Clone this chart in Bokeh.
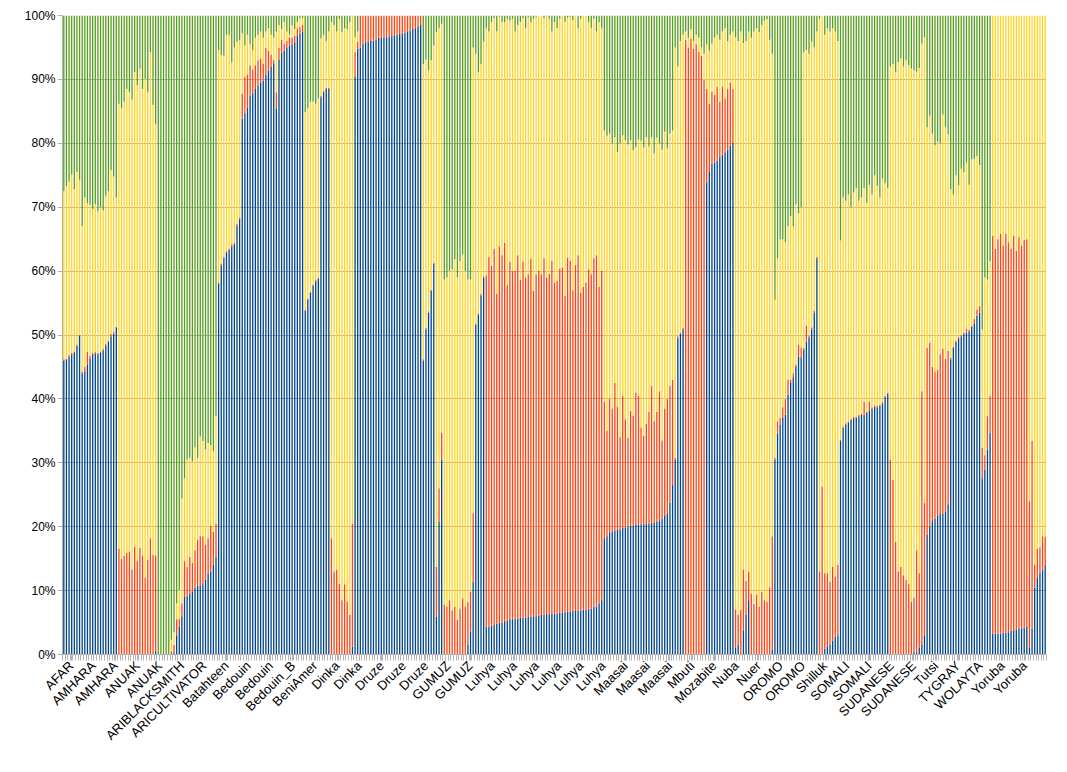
import numpy as np
from bokeh.plotting import figure
from bokeh.models import ColumnDataSource, FixedTicker, Range1d
from bokeh.embed import file_html
from bokeh.resources import INLINE

# ---- data: per-sample cumulative boundaries (%) ----
# blue share, blue+red top, blue+red+yellow top (green fills to 100)
blue_top = (
    [46.0,46.2,46.6,47.0,47.3,48.3,49.9,44.0,44.2,45.3,46.3,47.0,47.1,47.1,47.2,47.6,48.3,48.9,49.8,50.2,51.2]
    + [0,0,0,0,0,0,0,0,0,0,0,0,0,0,0.5]
    + [0,0,0,0,0]
    + [0,0.3,3.0,4.4]
    + [6.0,9.0,9.2,9.5,9.8,10.4,10.8,10.8,11.0,11.7,12.7,13.0,14.0,15.3]
    + [58.0,60.9,62.0,62.9,63.3,63.9,64.2,67.1,68.1]
    + [83.9,84.7,85.6,87.5,87.8,88.5,89.1,89.5,89.8,90.7,91.4,92.0,92.4,85.5,93.1,94.2,94.5,95.0,95.3,95.5,95.7,96.8,97.2,97.5]
    + [53.8,55.5,56.6,57.7,58.4,58.8]
    + [87.2,88.0,88.5,88.5]
    + [0,0,0,0,0,0,0,0,1.2]
    + [90.5,94.8,95.0,95.6,95.8,95.9,96.0,96.1,96.2,96.5,96.6,96.6,96.6,96.7,96.8,96.9,97.0,97.1,97.2,97.3,97.5,97.6,97.9,98.0,98.3,98.6]
    + [46.0,50.9,53.5,56.9,61.1]
    + [5.9,20.8,30.5]
    + [0,0,0,0,0,0,0,0,0,1.5,3.6]
    + [11.4,51.6,53.2,56.2,59.0]
    + [4.4,4.4,4.5,4.6,4.8,5.0,5.0,5.2,5.3,5.5,5.5,5.6,5.6,5.7,5.8,5.8,5.9,5.9,6.0,6.0,6.1,6.2,6.2,6.3,
       6.3,6.4,6.4,6.4,6.5,6.5,6.6,6.7,6.7,6.8,6.8,6.9,6.9,7.0,7.0,7.1,7.2,7.5,7.5,8.0,8.5]
    + [18.2,18.5,19.0,19.3,19.4,19.5,19.6,19.8,19.9,20.0,20.1,20.2,20.3,20.3,20.4,20.4,20.5,20.5,20.6,20.6,20.8,21.0,21.2,21.8,22.0,23.8]
    + [26.5,30.5,49.5,50.2,50.9]
    + [0,0,0,0,0,0,0,0]
    + [73.9,75.5,76.8,77.0,77.3,77.8,78.2,78.6,79.0,79.6,80.0]
    + [1.0,1.5,0,3.8,6.2,8.5,0,0,0,0,0,0,0,0,0.8]
    + [30.5,34.5,36.0,37.0,37.5,40.7,42.5,43.4,45.0,46.6]
    + [46.5,47.7,49.0,49.6,50.9,53.5,62.0]
    + [0,0,0.9,1.3,1.5,2.2,2.8,3.0]
    + [33.4,35.5,36.0,36.3,36.7,37.0,37.0,37.3,37.5,37.5,37.8,38.2,38.5,38.8,38.7,38.9,39.3,40.3,40.8]
    + [0,0,0,0,0,0,0,0,0,0.4,0.3,1.0,1.5,3.0]
    + [18.7,20.0,21.0,21.2,21.8,22.0,22.0,22.3,23.5]
    + [46.2,48.0,48.9,49.5,49.8,50.2,50.4,50.6,51.3,51.8]
    + [53.0,53.5,27.6,28.9,32.1,34.7]
    + [3.2,3.2,3.3,3.3,3.4,3.4,3.5,3.7,3.8,3.9,4.0,4.1,4.2,4.3]
    + [1.0,4.0,10.5,12.0,12.8,13.2,14.0]
)

red_top = (
    [46.2,46.3,46.9,47.2,47.4,48.5,50.0,44.3,45.0,47.4,46.7,47.2,47.4,47.2,47.4,47.8,48.6,49.1,50.2,50.5,51.3]
    + [16.6,15.0,15.4,15.9,16.1,13.3,16.9,14.6,16.7,15.5,12.0,14.8,18.2,15.6,15.5]
    + [0,0,0,0,0]
    + [0.5,1.5,5.5,5.6]
    + [8.0,14.6,13.7,15.3,14.3,16.3,17.9,18.5,18.5,17.2,18.2,20.1,19.2,20.5]
    + [58.2,61.2,62.2,63.2,63.5,64.2,64.4,67.4,68.4]
    + [87.8,90.4,90.7,92.2,91.5,92.2,93.0,93.2,92.5,95.0,94.5,93.8,93.0,88.0,95.0,96.2,95.6,96.0,96.6,96.5,96.8,98.0,98.2,98.5]
    + [54.0,55.7,56.8,57.9,58.6,59.0]
    + [87.4,88.2,88.7,88.7]
    + [18.2,13.0,13.3,11.1,8.5,11.0,8.3,6.2,20.5]
    + [94.3,95.9] + [100.0] * 24
    + [46.2,51.1,53.7,57.1,61.3]
    + [13.7,26.0,34.7]
    + [7.8,7.5,8.5,6.9,7.5,5.4,7.2,8.8,7.5,8.2,9.8]
    + [22.1,51.8,53.4,56.4,59.2]
    + [59.3,62.2,60.8,63.5,56.5,63.9,62.5,64.4,57.8,61.5,60.0,60.0,62.5,58.6,61.5,59.0,59.5,61.9,56.9,59.5,60.0,59.5,62.0,59.0,
       59.6,61.6,58.2,58.5,60.4,60.6,56.1,62.1,61.6,57.0,61.0,62.5,56.6,57.5,58.2,60.3,59.5,62.0,62.5,57.5,60.0]
    + [39.5,35.0,40.0,38.5,42.5,38.8,34.0,40.5,36.8,33.9,38.1,37.4,41.0,40.5,35.5,34.2,36.1,38.0,42.0,36.5,38.0,41.2,33.5,38.5,40.0,42.0]
    + [43.0,30.8,49.8,50.4,51.1]
    + [96.2,95.0,96.4,94.8,95.5,94.3,93.7,89.9]
    + [88.5,86.2,88.1,87.6,88.9,86.5,88.9,87.0,88.5,89.5,88.5]
    + [7.0,6.2,7.0,13.3,11.5,13.0,9.5,7.9,9.4,7.5,9.8,8.5,8.2,10.5,18.5]
    + [30.8,36.5,37.0,38.7,40.0,43.0,43.0,44.0,45.3,48.5]
    + [48.0,48.0,51.5,49.9,51.2,53.8,62.2]
    + [13.0,26.3,12.7,12.7,11.4,13.7,12.2,14.0]
    + [33.6,35.7,36.2,36.5,36.9,37.2,37.2,37.5,37.7,39.6,38.0,39.6,38.7,39.0,38.9,39.1,39.5,40.5,41.0]
    + [30.5,27.3,17.6,13.0,13.7,12.4,11.7,11.1,8.2,8.9,16.3,12.7,41.2,23.7]
    + [48.0,48.8,45.0,44.3,44.5,47.0,47.8,46.3,47.5]
    + [46.4,48.2,49.1,49.7,50.0,50.4,51.0,50.8,51.5,52.5]
    + [54.0,54.5,32.4,31.2,37.3,40.5]
    + [65.5,63.5,65.0,65.8,64.0,65.8,64.5,63.5,65.5,63.2,65.3,64.0,64.9,65.0]
    + [24.0,33.4,14.0,16.5,16.8,18.5,18.4]
)

yellow_top = (
    [72.5,73.3,74.0,75.1,72.8,75.5,74.3,67.0,71.5,70.6,70.4,69.7,70.5,69.4,70.0,69.5,71.8,72.5,75.8,74.8,71.5]
    + [86.2,85.5,86.5,88.5,88.0,86.9,91.1,89.1,91.7,88.5,90.1,88.0,94.3,86.0,83.0]
    + [0,0,0,0,0]
    + [2.3,3.5,8.0,10.1]
    + [24.4,27.6,30.5,30.8,30.2,32.4,30.8,34.1,33.4,32.1,33.1,32.8,31.8,37.3]
    + [94.6,93.8,93.7,97.0,96.9,92.7,95.0,95.9,96.1]
    + [97.2,95.3,97.0,95.5,94.6,96.5,97.0,97.5,96.5,97.5,98.0,97.0,96.5,97.5,98.5,97.9,99.0,97.5,97.0,98.5,97.9,99.0,99.6,99.6]
    + [84.9,85.5,86.5,86.5,86.2,87.0]
    + [96.4,97.0,96.0,97.5]
    + [99.0,98.5,97.5,99.5,97.4,98.0,97.9,99.0,100.0]
    + [96.6,97.5] + [100.0] * 24
    + [92.4,93.1,91.4,93.0,95.3]
    + [97.4,98.0,98.7]
    + [58.7,59.0,60.0,60.3,61.9,59.0,61.6,62.6,60.0,58.7,58.7]
    + [95.0,94.0,91.1,92.4,95.9]
    + [98.0,97.5,99.0,99.6,97.5,99.8,99.0,99.0,99.4,99.2,99.5,97.5,98.5,99.0,99.6,98.0,99.7,99.0,99.5,99.8,100,100,99.6,99.9,
       99.5,97.5,99.0,98.0,99.5,100,99.0,99.7,99.8,99.3,100,98.0,99.5,100,100,99.0,98.0,99.5,97.5,99.0,98.0]
    + [82.0,81.2,81.5,80.0,81.0,78.6,80.0,81.3,80.5,79.8,80.5,78.9,79.4,80.6,80.4,79.4,81.0,79.5,81.0,78.4,80.9,80.0,79.0,81.8,79.2,81.5]
    + [82.0,95.0,92.0,96.0,97.0]
    + [97.5,96.5,97.8,96.0,97.0,96.5,95.0,94.0]
    + [95.5,94.5,95.6,96.5,97.0,96.2,97.5,98.0,96.0,97.0,97.5]
    + [96.6,96.0,97.5,95.7,96.0,97.5,96.5,97.5,98.0,97.4,98.5,99.2,99.4,96.2,94.0]
    + [55.5,62.0,65.0,65.0,64.5,67.0,68.6,67.0,70.5,69.0]
    + [70.0,94.3,94.6,94.0,95.9,95.0,97.5]
    + [99.5,100.0,97.0,98.0,97.5,98.0,97.5,96.0]
    + [64.8,71.5,71.0,72.0,70.0,72.3,73.0,71.0,71.5,73.0,70.7,73.5,72.0,75.0,73.3,71.5,74.5,73.8,73.0]
    + [92.0,92.4,91.1,92.7,93.3,92.0,93.0,92.2,91.7,91.4,91.2,91.8,95.6,96.6]
    + [82.5,84.3,81.5,79.7,80.3,80.0,84.5,82.6,81.4]
    + [72.8,72.0,75.0,73.4,76.0,75.5,77.0,73.5,77.5,77.6]
    + [78.0,76.6,50.9,59.0,58.7,61.6]
    + [100.0] * 14
    + [100.0] * 7
)

tick_labels = ["AFAR", "AMHARA", "AMHARA", "ANUAK", "ANUAK", "ARIBLACKSMITH", "ARICULTIVATOR",
               "Batahteen", "Bedouin", "Bedouin", "Bedouin_B", "BeniAmer", "Dinka", "Dinka",
               "Druze", "Druze", "Druze", "GUMUZ", "GUMUZ", "Luhya", "Luhya", "Luhya", "Luhya",
               "Luhya", "Luhya", "Maasai", "Maasai", "Maasai", "Mbuti", "Mozabite", "Nuba", "Nuer",
               "OROMO", "OROMO", "Shilluk", "SOMALI", "SOMALI", "SUDANESE", "SUDANESE", "Tutsi",
               "TYGRAY", "WOLAYTA", "Yoruba", "Yoruba"]

series_names = ["blue", "red", "yellow", "green"]
colors = ["#004586", "#ff420e", "#ffd320", "#579d1c"]

# ---- derive shares ----
n = min(len(blue_top), len(red_top), len(yellow_top))
b = np.array(blue_top[:n], dtype=float)
rt = np.maximum(np.array(red_top[:n], dtype=float), b)
yt = np.maximum(np.array(yellow_top[:n], dtype=float), rt)
src = ColumnDataSource(dict(
    x=np.arange(n),
    blue=b,
    red=rt - b,
    yellow=yt - rt,
    green=100.0 - yt,
))

FONT = "Liberation Sans"
GRAY = "#b3b3b3"

p = figure(frame_width=984, frame_height=639,
           min_border_left=62, min_border_right=13, min_border_top=15, min_border_bottom=108,
           x_range=Range1d(-0.5, n - 0.5), y_range=Range1d(0, 100),
           output_backend="svg", toolbar_location=None)

p.vbar_stack(series_names, x="x", width=0.5, fill_color=colors, line_color=None, source=src)

p.outline_line_color = None
p.background_fill_color = "white"
p.border_fill_color = "white"

# y axis
p.yaxis.ticker = FixedTicker(ticks=list(range(0, 101, 10)))
p.yaxis.major_label_overrides = {v: f"{v}%" for v in range(0, 101, 10)}
p.yaxis.axis_line_color = GRAY
p.yaxis.major_tick_line_color = GRAY
p.yaxis.major_tick_out = 5
p.yaxis.major_tick_in = 0
p.yaxis.minor_tick_line_color = None
p.yaxis.major_label_text_font = FONT
p.yaxis.major_label_text_font_size = "12px"
p.yaxis.major_label_text_color = "#000000"
p.yaxis.major_label_standoff = 2

p.ygrid.ticker = FixedTicker(ticks=list(range(10, 101, 10)))
p.ygrid.grid_line_color = GRAY
p.xgrid.grid_line_color = None

# x axis
label_pos = [2.8 + 8.45 * k for k in range(len(tick_labels))]
p.xaxis.ticker = FixedTicker(ticks=label_pos, minor_ticks=list(np.arange(n + 1) - 0.5))
p.xaxis.major_label_overrides = {pos: lab for pos, lab in zip(label_pos, tick_labels)}
p.xaxis.major_label_orientation = np.pi / 4
p.xaxis.axis_line_color = GRAY
p.xaxis.major_tick_line_color = GRAY
p.xaxis.minor_tick_line_color = GRAY
p.xaxis.major_tick_out = 6
p.xaxis.major_tick_in = 0
p.xaxis.minor_tick_out = 6
p.xaxis.minor_tick_in = 0
p.xaxis.major_label_text_font = FONT
p.xaxis.major_label_text_font_size = "13px"
p.xaxis.major_label_text_color = "#000000"
p.xaxis.major_label_standoff = 3

open("out.html", "w").write(file_html(p, INLINE))
